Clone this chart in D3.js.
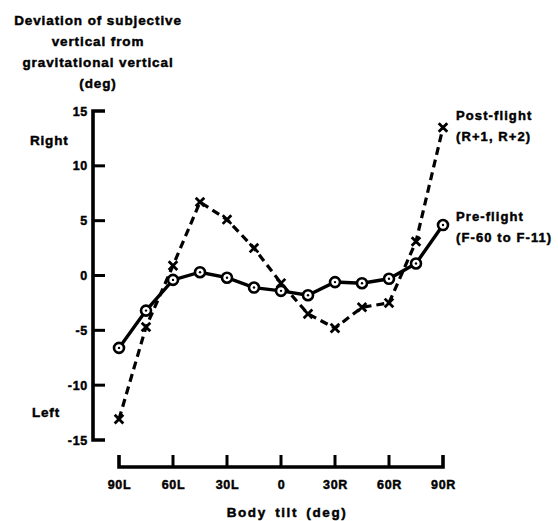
<!DOCTYPE html>
<html>
<head>
<meta charset="utf-8">
<script src="https://cdn.jsdelivr.net/npm/d3@7"></script>
<style>
  html, body { margin: 0; padding: 0; background: #fff; }
  svg { display: block; }
  text { font-family: "Liberation Sans", Arial, sans-serif; font-weight: bold; fill: #000; stroke: #000; stroke-width: 0.45px; }
</style>
</head>
<body>
<svg id="chart" width="558" height="521"></svg>
<script>
// Body tilt angles (deg, negative = left, positive = right)
const tilts = [-90, -75, -60, -45, -30, -15, 0, 15, 30, 45, 60, 75, 90];

// Deviation of subjective vertical (deg)
const preFlight  = [-6.6, -3.2, -0.4, 0.3, -0.2, -1.1, -1.4, -1.8, -0.6, -0.7, -0.3, 1.1, 4.6];
const postFlight = [-13.1, -4.7, 0.9, 6.7, 5.1, 2.5, -0.7, -3.5, -4.8, -2.9, -2.5, 3.1, 13.5];

const xTickValues = [-90, -60, -30, 0, 30, 60, 90];
const xTickLabels = ["90L", "60L", "30L", "0", "30R", "60R", "90R"];
const yTickValues = [15, 10, 5, 0, -5, -10, -15];
const yTickLabels = ["15", "10", "5", "0", "-5", "-10", "-15"];

const titleLines = ["Deviation of subjective", "vertical from", "gravitational vertical", "(deg)"];

const svg = d3.select("#chart");

const x = d3.scaleLinear().domain([-90, 90]).range([119, 443]);
const y = d3.scaleLinear().domain([-15, 15]).range([440, 111]);

const axisX0 = 93;   // y axis position
const axisY0 = 467;  // x axis position
const tickLen = 12;

// Tick labels via d3 axes
const yAxis = d3.axisLeft(y)
  .tickValues(yTickValues)
  .tickFormat((d, i) => yTickLabels[i])
  .tickSize(0)
  .tickPadding(5);
const gy = svg.append("g").attr("transform", `translate(${axisX0},0)`).call(yAxis);

const xAxis = d3.axisBottom(x)
  .tickValues(xTickValues)
  .tickFormat((d, i) => xTickLabels[i])
  .tickSize(0)
  .tickPadding(13);
const gx = svg.append("g").attr("transform", `translate(0,${axisY0})`).call(xAxis);

[gx, gy].forEach(g => {
  g.attr("font-family", null).attr("font-size", null);
  g.selectAll(".domain").remove();
  g.selectAll(".tick line").remove();
  g.selectAll(".tick text").attr("font-size", 12.5).attr("letter-spacing", 0.7);
});

// Heavy axis rules and inward ticks
const rules = svg.append("g").attr("stroke", "#000").attr("fill", "none");
rules.append("path")
  .attr("stroke-width", 3.6)
  .attr("d", `M${axisX0 + tickLen},${y(15)}H${axisX0}V${y(-15)}H${axisX0 + tickLen}`);
rules.selectAll("line.yt").data(yTickValues.slice(1, -1)).join("line")
  .attr("class", "yt")
  .attr("stroke-width", 3)
  .attr("x1", axisX0).attr("x2", axisX0 + tickLen)
  .attr("y1", d => y(d)).attr("y2", d => y(d));
rules.append("path")
  .attr("stroke-width", 3.6)
  .attr("d", `M${x(-90)},${axisY0 - tickLen}V${axisY0}H${x(90)}V${axisY0 - tickLen}`);
rules.selectAll("line.xt").data(xTickValues.slice(1, -1)).join("line")
  .attr("class", "xt")
  .attr("stroke-width", 3)
  .attr("x1", d => x(d)).attr("x2", d => x(d))
  .attr("y1", axisY0).attr("y2", axisY0 - tickLen);

// Axis titles
svg.append("g").selectAll("text").data(titleLines).join("text")
  .attr("x", 98)
  .attr("y", (d, i) => 25 + i * 21)
  .attr("text-anchor", "middle")
  .attr("font-size", 13.5)
  .attr("letter-spacing", 0.9)
  .text(d => d);

svg.append("text").attr("x", 30).attr("y", 145).attr("font-size", 13.5).attr("letter-spacing", 0.8).text("Right");
svg.append("text").attr("x", 32).attr("y", 417).attr("font-size", 13.5).attr("letter-spacing", 0.8).text("Left");

svg.append("text")
  .attr("x", 287).attr("y", 517)
  .attr("text-anchor", "middle")
  .attr("font-size", 13.5)
  .attr("letter-spacing", 1.6)
  .attr("word-spacing", 3)
  .text("Body tilt (deg)");

// Series labels
const seriesLabels = [
  { lines: ["Post-flight", "(R+1, R+2)"], y: 120 },
  { lines: ["Pre-flight", "(F-60 to F-11)"], y: 221 }
];
seriesLabels.forEach(s => {
  svg.append("g").selectAll("text").data(s.lines).join("text")
    .attr("x", 456)
    .attr("y", (d, i) => s.y + i * 21)
    .attr("font-size", 13)
    .attr("letter-spacing", 1.1)
    .text(d => d);
});

const line = d3.line().x((d, i) => x(tilts[i])).y(d => y(d));

// Post-flight: dashed line with X markers
svg.append("path")
  .datum(postFlight)
  .attr("d", line)
  .attr("fill", "none")
  .attr("stroke", "#000")
  .attr("stroke-width", 3.2)
  .attr("stroke-dasharray", "8,5");

// Pre-flight: solid line with dotted circles
svg.append("path")
  .datum(preFlight)
  .attr("d", line)
  .attr("fill", "none")
  .attr("stroke", "#000")
  .attr("stroke-width", 3.4);

const xs = 4.3;
svg.append("g").selectAll("path").data(postFlight).join("path")
  .attr("transform", (d, i) => `translate(${x(tilts[i])},${y(d)})`)
  .attr("d", `M${-xs},${-xs}L${xs},${xs}M${-xs},${xs}L${xs},${-xs}`)
  .attr("stroke", "#000")
  .attr("stroke-width", 2.8)
  .attr("fill", "none");

const circ = svg.append("g").selectAll("g").data(preFlight).join("g")
  .attr("transform", (d, i) => `translate(${x(tilts[i])},${y(d)})`);
circ.append("circle").attr("r", 5).attr("fill", "#fff").attr("stroke", "#000").attr("stroke-width", 2.6);
circ.append("circle").attr("r", 1.2).attr("fill", "#000");
</script>
</body>
</html>
